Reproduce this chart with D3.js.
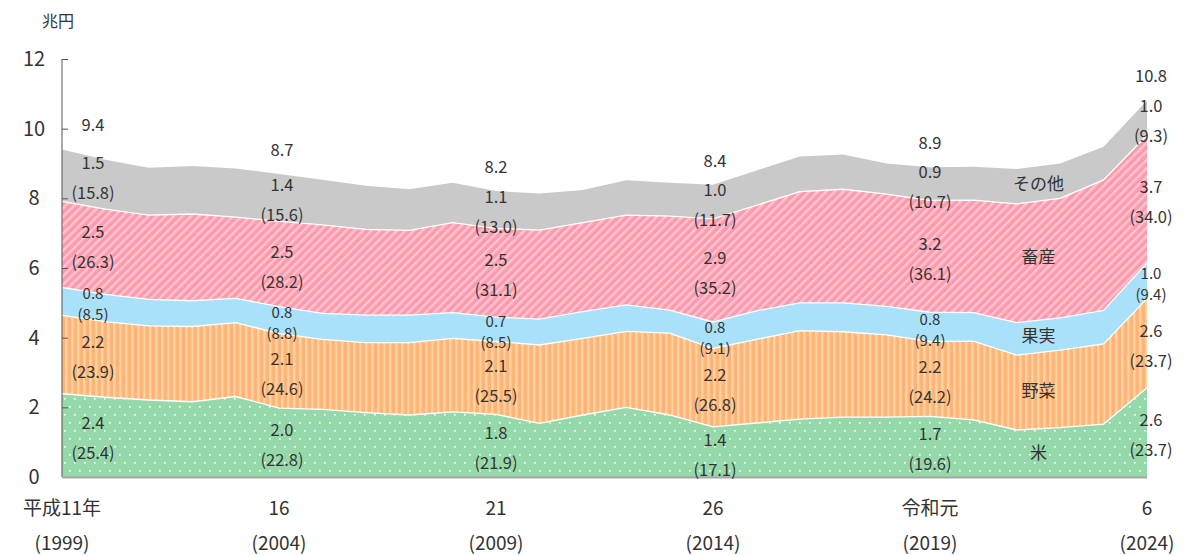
<!DOCTYPE html>
<html>
<head>
<meta charset="utf-8">
<script src="https://cdn.jsdelivr.net/npm/d3@7"></script>
<style>
  body { margin: 0; background: #fff; }
  text { font-family: "Noto Sans CJK JP", "Noto Sans", sans-serif; fill: #333; }
</style>
</head>
<body>
<div id="chart"></div>
<script>
// years on the x axis
var years = [1999, 2000, 2001, 2002, 2003, 2004, 2005, 2006, 2007, 2008, 2009, 2010, 2011,
             2012, 2013, 2014, 2015, 2016, 2017, 2018, 2019, 2020, 2021, 2022, 2023, 2024];

// values (trillion yen)
var rice       = [2.39, 2.29, 2.21, 2.16, 2.31, 1.98, 1.94, 1.85, 1.78, 1.87, 1.80, 1.54, 1.78,
                  2.00, 1.78, 1.44, 1.55, 1.66, 1.72, 1.72, 1.74, 1.64, 1.35, 1.42, 1.52, 2.56];
var vegetables = [2.25, 2.17, 2.13, 2.16, 2.12, 2.14, 2.01, 2.01, 2.08, 2.11, 2.09, 2.25, 2.20,
                  2.18, 2.35, 2.25, 2.40, 2.54, 2.45, 2.36, 2.15, 2.26, 2.15, 2.22, 2.30, 2.56];
var fruit      = [0.80, 0.78, 0.76, 0.74, 0.70, 0.77, 0.75, 0.79, 0.79, 0.74, 0.70, 0.74, 0.77,
                  0.76, 0.66, 0.76, 0.82, 0.80, 0.83, 0.82, 0.84, 0.82, 0.93, 0.93, 0.96, 1.02];
var livestock  = [2.47, 2.45, 2.42, 2.49, 2.33, 2.45, 2.54, 2.46, 2.43, 2.58, 2.55, 2.56, 2.55,
                  2.58, 2.70, 2.96, 3.03, 3.19, 3.26, 3.22, 3.21, 3.23, 3.41, 3.43, 3.75, 3.67];
var other      = [1.49, 1.42, 1.36, 1.38, 1.40, 1.36, 1.29, 1.25, 1.18, 1.15, 1.07, 1.05, 0.94,
                  1.00, 0.96, 0.98, 1.00, 1.01, 1.00, 0.88, 0.95, 0.96, 1.00, 1.00, 0.95, 1.00];

var seriesNames = ["米", "野菜", "果実", "畜産", "その他"];

// labelled years
var labelYears  = [1999, 2004, 2009, 2014, 2019, 2024];
var totalLabels = ["9.4", "8.7", "8.2", "8.4", "8.9", "10.8"];
var valueLabels = [
  ["2.4", "2.0", "1.8", "1.4", "1.7", "2.6"],
  ["2.2", "2.1", "2.1", "2.2", "2.2", "2.6"],
  ["0.8", "0.8", "0.7", "0.8", "0.8", "1.0"],
  ["2.5", "2.5", "2.5", "2.9", "3.2", "3.7"],
  ["1.5", "1.4", "1.1", "1.0", "0.9", "1.0"]
];
var shareLabels = [
  ["(25.4)", "(22.8)", "(21.9)", "(17.1)", "(19.6)", "(23.7)"],
  ["(23.9)", "(24.6)", "(25.5)", "(26.8)", "(24.2)", "(23.7)"],
  ["(8.5)", "(8.8)", "(8.5)", "(9.1)", "(9.4)", "(9.4)"],
  ["(26.3)", "(28.2)", "(31.1)", "(35.2)", "(36.1)", "(34.0)"],
  ["(15.8)", "(15.6)", "(13.0)", "(11.7)", "(10.7)", "(9.3)"]
];
var tickEra  = ["平成11年", "16", "21", "26", "令和元", "6"];
var tickYear = ["(1999)", "(2004)", "(2009)", "(2014)", "(2019)", "(2024)"];
var yTicks = [0, 2, 4, 6, 8, 10, 12];

// layout
var svgWidth = 1187, svgHeight = 556;
var margin = {top: 59, right: 40, bottom: 79, left: 62};
var width = svgWidth - margin.left - margin.right;
var height = svgHeight - margin.top - margin.bottom;
var labelDx = [31, 3, 0, 2, 0, 4];

var svg = d3.select("#chart").append("svg")
  .attr("width", svgWidth)
  .attr("height", svgHeight);

// fill patterns
var defs = svg.append("defs");

var pRice = defs.append("pattern").attr("id", "p-rice")
  .attr("patternUnits", "userSpaceOnUse").attr("width", 10).attr("height", 16);
pRice.append("rect").attr("width", 10).attr("height", 16).attr("fill", "#95d9aa");
pRice.append("rect").attr("x", 2).attr("y", 3).attr("width", 1.6).attr("height", 1.6).attr("fill", "#fff");
pRice.append("rect").attr("x", 7).attr("y", 11).attr("width", 1.6).attr("height", 1.6).attr("fill", "#fff");

var pVeg = defs.append("pattern").attr("id", "p-veg")
  .attr("patternUnits", "userSpaceOnUse").attr("width", 6).attr("height", 6);
pVeg.append("rect").attr("width", 6).attr("height", 6).attr("fill", "#ffb57a");
pVeg.append("rect").attr("x", 3).attr("width", 2.5).attr("height", 6).attr("fill", "#ffd39f");

var pMeat = defs.append("pattern").attr("id", "p-meat")
  .attr("patternUnits", "userSpaceOnUse").attr("width", 6).attr("height", 6)
  .attr("patternTransform", "rotate(45)");
pMeat.append("rect").attr("width", 6).attr("height", 6).attr("fill", "#ff9aae");
pMeat.append("rect").attr("x", 3).attr("width", 2.4).attr("height", 6).attr("fill", "#ffc6d0");

var fills = ["url(#p-rice)", "url(#p-veg)", "#a8e1f9", "url(#p-meat)", "#c9c9c9"];

var chartGroup = svg.append("g")
  .attr("transform", "translate(" + margin.left + "," + margin.top + ")");

// table for the stack
var table = years.map(function(y, i) {
  return {year: y, "米": rice[i], "野菜": vegetables[i], "果実": fruit[i],
          "畜産": livestock[i], "その他": other[i]};
});
var stacked = d3.stack().keys(seriesNames)(table);

var xScale = d3.scaleLinear().domain([1999, 2024]).range([0, width]);
var yScale = d3.scaleLinear().domain([0, 12]).range([height, 0]);

var area = d3.area()
  .x(function(d) { return xScale(d.data.year); })
  .y0(function(d) { return yScale(d[0]); })
  .y1(function(d) { return yScale(d[1]); });

chartGroup.selectAll(".band")
  .data(stacked)
  .enter()
  .append("path")
  .attr("class", "band")
  .attr("d", area)
  .attr("fill", function(d, i) { return fills[i]; });

// white separators between the bands
var line = d3.line()
  .x(function(d) { return xScale(d.data.year); })
  .y(function(d) { return yScale(d[1]); });
chartGroup.selectAll(".sep")
  .data(stacked.slice(0, 4))
  .enter()
  .append("path")
  .attr("d", line)
  .attr("fill", "none")
  .attr("stroke", "#fff")
  .attr("stroke-width", 1.3);

// axes
var leftAxis = d3.axisLeft(yScale).tickValues(yTicks).tickSize(-6).tickFormat("");
var gy = chartGroup.append("g").call(leftAxis);
gy.select(".domain").attr("stroke", "#555").attr("d", "M0," + height + "V0");
gy.selectAll(".tick line").attr("stroke", "#555");

chartGroup.append("line")
  .attr("x1", 0).attr("x2", width)
  .attr("y1", height + 0.5).attr("y2", height + 0.5)
  .attr("stroke", "#a6a6a6").attr("stroke-width", 2);

chartGroup.selectAll(".ylab")
  .data(yTicks)
  .enter()
  .append("text")
  .attr("x", -28)
  .attr("y", function(d) { return yScale(d); })
  .attr("dy", "0.35em")
  .attr("text-anchor", "middle")
  .attr("font-size", "20px")
  .text(function(d) { return d; });

chartGroup.append("text")
  .attr("x", -4).attr("y", -38)
  .attr("dy", "0.35em")
  .attr("text-anchor", "middle")
  .attr("font-size", "16px")
  .text("兆円");

// x tick labels
labelYears.forEach(function(yr, i) {
  chartGroup.append("text")
    .attr("x", xScale(yr)).attr("y", height + 31)
    .attr("dy", "0.35em").attr("text-anchor", "middle")
    .attr("font-size", "19px").text(tickEra[i]);
  chartGroup.append("text")
    .attr("x", xScale(yr)).attr("y", height + 66)
    .attr("dy", "0.35em").attr("text-anchor", "middle")
    .attr("font-size", "19px").text(tickYear[i]);
});

// data labels inside each band
labelYears.forEach(function(yr, j) {
  var idx = years.indexOf(yr);
  var lx = xScale(yr) + labelDx[j];
  stacked.forEach(function(s, k) {
    var c = yScale((s[idx][0] + s[idx][1]) / 2) + 3;
    var gap = (k === 2) ? 10.5 : 15;
    var fs = (k === 2) ? "15px" : "16.5px";
    chartGroup.append("text")
      .attr("x", lx).attr("y", c - gap)
      .attr("dy", "0.35em").attr("text-anchor", "middle")
      .attr("font-size", fs).text(valueLabels[k][j]);
    chartGroup.append("text")
      .attr("x", lx).attr("y", c + gap)
      .attr("dy", "0.35em").attr("text-anchor", "middle")
      .attr("font-size", fs).text(shareLabels[k][j]);
  });
  var top = stacked[4][idx][1];
  chartGroup.append("text")
    .attr("x", lx).attr("y", yScale(top) - 24)
    .attr("dy", "0.35em").attr("text-anchor", "middle")
    .attr("font-size", "16.5px").text(totalLabels[j]);
});

// series names, placed between 2021 and 2022
var i1 = years.indexOf(2021), i2 = years.indexOf(2022);
stacked.forEach(function(s, k) {
  var mid = (s[i1][0] + s[i1][1] + s[i2][0] + s[i2][1]) / 4;
  chartGroup.append("text")
    .attr("x", (xScale(2021) + xScale(2022)) / 2)
    .attr("y", yScale(mid) - (k === 3 ? 4 : 0))
    .attr("dy", "0.35em").attr("text-anchor", "middle")
    .attr("font-size", "17px").text(seriesNames[k]);
});
</script>
</body>
</html>
